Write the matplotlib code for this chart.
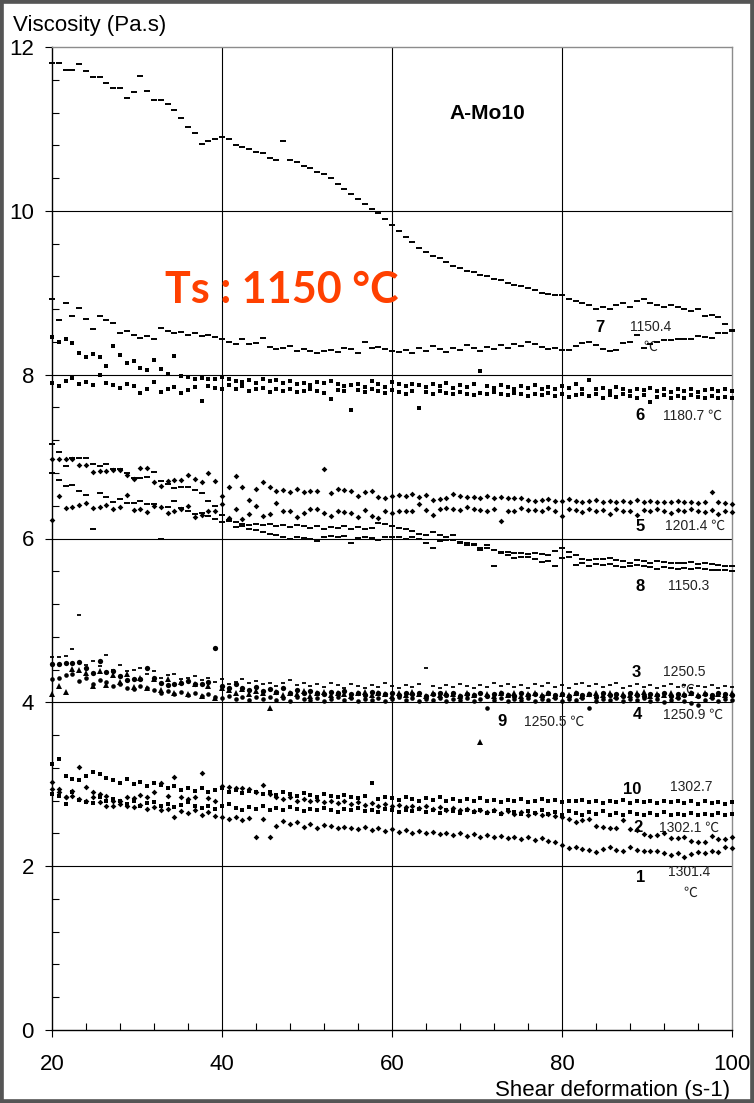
import numpy as np
import matplotlib
matplotlib.use("Agg")
import matplotlib.pyplot as plt
from matplotlib.ticker import FixedLocator
from matplotlib.patches import Rectangle

# ---------------------------------------------------------------------------
# Viscosity (Pa.s) of A-Mo10 versus shear deformation (s-1), 20 -> 100 s-1
# ---------------------------------------------------------------------------

# run 7, 1150.4 C (upper branch)
run7_upper = [11.80, 11.80, 11.72, 11.72, 11.79, 11.71, 11.63, 11.63, 11.56, 11.50,
              11.50, 11.38, 11.45, 11.65, 11.46, 11.35, 11.35, 11.30, 11.23, 11.13,
              11.02, 10.95, 10.82, 10.85, 10.88, 10.90, 10.88, 10.80, 10.78, 10.75,
              10.72, 10.70, 10.65, 10.62, 10.85, 10.62, 10.60, 10.55, 10.52, 10.48,
              10.45, 10.40, 10.33, 10.27, 10.20, 10.14, 10.08, 10.02, 9.97, 9.90,
              9.83, 9.75, 9.68, 9.62, 9.55, 9.50, 9.45, 9.42, 9.38, 9.33,
              9.30, 9.27, 9.25, 9.22, 9.20, 9.17, 9.15, 9.12, 9.10, 9.08,
              9.06, 9.03, 9.00, 8.98, 8.97, 8.97, 8.92, 8.90, 8.88, 8.85,
              8.80, 8.82, 8.80, 8.85, 8.88, 8.82, 8.90, 8.92, 8.88, 8.85,
              8.83, 8.85, 8.82, 8.80, 8.78, 8.80, 8.72, 8.73, 8.70, 8.62,
              8.55]

# run 7, 1150.4 C (lower branch)
run7_lower = [8.92, 8.67, 8.87, 8.72, 8.81, 8.68, 8.56, 8.72, 8.67, 8.63,
              8.51, 8.53, 8.49, 8.45, 8.47, 8.43, 8.57, 8.53, 8.51, 8.52,
              8.48, 8.51, 8.47, 8.49, 8.46, 8.43, 8.40, 8.37, 8.43, 8.37,
              8.39, 8.45, 8.34, 8.31, 8.33, 8.35, 8.29, 8.31, 8.29, 8.27,
              8.29, 8.30, 8.28, 8.33, 8.31, 8.26, 8.40, 8.33, 8.34, 8.31,
              8.29, 8.28, 8.30, 8.26, 8.32, 8.29, 8.35, 8.31, 8.28, 8.33,
              8.30, 8.36, 8.32, 8.29, 8.34, 8.31, 8.36, 8.33, 8.38, 8.35,
              8.40, 8.37, 8.34, 8.31, 8.33, 8.30, 8.30, 8.35, 8.39, 8.40,
              8.36, 8.31, 8.29, 8.30, 8.39, 8.40, 8.48, 8.33, 8.38, 8.40,
              8.42, 8.42, 8.44, 8.43, 8.44, 8.47, 8.46, 8.45, 8.51, 8.51,
              8.53]

# run 6, 1180.7 C
run6_a = [8.46, 8.40, 8.43, 8.39, 8.26, 8.22, 8.25, 8.22, 8.11, 8.35,
          8.24, 8.14, 8.17, 8.08, 8.06, 8.18, 8.07, 8.01, 8.23, 7.98,
          7.97, 7.95, 7.96, 7.95, 7.95, 7.97, 7.95, 7.92, 7.91, 7.93,
          7.90, 7.95, 7.92, 7.94, 7.90, 7.92, 7.88, 7.90, 7.87, 7.91,
          7.90, 7.92, 7.88, 7.86, 7.87, 7.89, 7.85, 7.92, 7.88, 7.85,
          7.91, 7.88, 7.86, 7.89, 7.87, 7.85, 7.88, 7.86, 7.90, 7.84,
          7.87, 7.85, 7.88, 8.05, 7.86, 7.84, 7.87, 7.85, 7.83, 7.86,
          7.84, 7.87, 7.82, 7.85, 7.83, 7.86, 7.84, 7.88, 7.83, 7.93,
          7.82, 7.84, 7.80, 7.85, 7.82, 7.80, 7.83, 7.81, 7.84, 7.80,
          7.82, 7.79, 7.83, 7.80, 7.82, 7.79, 7.81, 7.83, 7.80, 7.82,
          7.80]
run6_b = [7.90, 7.86, 7.92, 7.96, 7.88, 7.91, 7.87, 8.00, 7.90, 7.87,
          7.84, 7.89, 7.86, 7.78, 7.82, 7.91, 7.79, 7.82, 7.85, 7.78,
          7.81, 7.85, 7.68, 7.86, 7.84, 7.83, 7.87, 7.82, 7.86, 7.80,
          7.82, 7.84, 7.79, 7.83, 7.80, 7.83, 7.79, 7.80, 7.82, 7.80,
          7.78, 7.70, 7.81, 7.80, 7.57, 7.81, 7.79, 7.82, 7.80, 7.78,
          7.81, 7.79, 7.77, 7.80, 7.59, 7.79, 7.77, 7.80, 7.78, 7.76,
          7.79, 7.77, 7.75, 7.78, 7.76, 7.79, 7.77, 7.75, 7.78, 7.76,
          7.74, 7.77, 7.75, 7.78, 7.74, 7.76, 7.73, 7.75, 7.77, 7.74,
          7.76, 7.72, 7.75, 7.73, 7.76, 7.74, 7.72, 7.75, 7.67, 7.73,
          7.75, 7.72, 7.74, 7.72, 7.75, 7.73, 7.71, 7.74, 7.72, 7.73,
          7.72]

# run 5, 1201.4 C
run5_a = [6.97, 6.97, 6.97, 6.97, 6.90, 6.90, 6.81, 6.82, 6.83, 6.84,
          6.84, 6.78, 6.73, 6.86, 6.86, 6.69, 6.64, 6.70, 6.71, 6.72,
          6.78, 6.73, 6.69, 6.80, 6.70, 6.52, 6.63, 6.76, 6.63, 6.47,
          6.60, 6.69, 6.63, 6.58, 6.59, 6.57, 6.60, 6.57, 6.58, 6.58,
          6.85, 6.55, 6.60, 6.59, 6.58, 6.52, 6.57, 6.58, 6.51, 6.50,
          6.52, 6.53, 6.52, 6.54, 6.51, 6.53, 6.47, 6.48, 6.49, 6.54,
          6.52, 6.51, 6.51, 6.50, 6.52, 6.50, 6.51, 6.50, 6.49, 6.50,
          6.47, 6.46, 6.47, 6.48, 6.46, 6.46, 6.48, 6.46, 6.45, 6.46,
          6.47, 6.45, 6.46, 6.44, 6.46, 6.45, 6.47, 6.44, 6.46, 6.45,
          6.44, 6.45, 6.46, 6.44, 6.45, 6.43, 6.45, 6.57, 6.44, 6.43,
          6.42]
run5_b = [6.23, 6.52, 6.37, 6.39, 6.41, 6.43, 6.37, 6.39, 6.41, 6.36,
          6.38, 6.53, 6.35, 6.36, 6.32, 6.40, 6.39, 6.31, 6.33, 6.36,
          6.40, 6.26, 6.29, 6.34, 6.33, 6.42, 6.25, 6.36, 6.24, 6.30,
          6.40, 6.28, 6.30, 6.43, 6.33, 6.34, 6.26, 6.31, 6.36, 6.36,
          6.31, 6.27, 6.33, 6.32, 6.31, 6.26, 6.35, 6.28, 6.25, 6.33,
          6.31, 6.33, 6.34, 6.33, 6.42, 6.35, 6.29, 6.36, 6.37, 6.36,
          6.35, 6.38, 6.36, 6.35, 6.33, 6.36, 6.21, 6.33, 6.34, 6.37,
          6.35, 6.35, 6.34, 6.37, 6.33, 6.28, 6.36, 6.35, 6.32, 6.36,
          6.34, 6.35, 6.30, 6.36, 6.34, 6.33, 6.29, 6.35, 6.33, 6.36,
          6.34, 6.31, 6.35, 6.33, 6.36, 6.34, 6.32, 6.35, 6.30, 6.33,
          6.32]

# run 8, 1150.3 C
run8_a = [7.15, 7.06, 6.88, 6.98, 6.98, 6.98, 6.91, 6.88, 6.91, 6.85,
          6.85, 6.80, 6.74, 6.74, 6.75, 6.81, 6.70, 6.66, 6.62, 6.63,
          6.63, 6.59, 6.55, 6.46, 6.40, 6.29, 6.21, 6.20, 6.18, 6.17,
          6.18, 6.16, 6.18, 6.15, 6.17, 6.14, 6.16, 6.15, 6.13, 6.15,
          6.12, 6.14, 6.13, 6.15, 6.12, 6.14, 6.11, 6.13, 6.19, 6.18,
          6.15, 6.13, 6.11, 6.09, 6.05, 6.04, 6.08, 6.04, 6.02, 5.98,
          5.95, 5.94, 5.92, 5.88, 5.88, 5.86, 5.83, 5.84, 5.82, 5.82,
          5.81, 5.82, 5.81, 5.80, 5.85, 5.88, 5.83, 5.80, 5.75, 5.74,
          5.75, 5.75, 5.76, 5.74, 5.72, 5.70, 5.74, 5.72, 5.70, 5.72,
          5.71, 5.70, 5.70, 5.70, 5.71, 5.69, 5.70, 5.69, 5.68, 5.67,
          5.66]
run8_b = [6.80, 6.71, 6.64, 6.65, 6.58, 6.53, 6.12, 6.55, 6.51, 6.45,
          6.48, 6.43, 6.43, 6.46, 6.42, 6.42, 6.00, 6.38, 6.46, 6.37,
          6.33, 6.30, 6.31, 6.27, 6.24, 6.20, 6.22, 6.14, 6.15, 6.12,
          6.10, 6.08, 6.06, 6.04, 6.02, 6.00, 6.02, 6.01, 6.00, 5.97,
          6.02, 6.03, 6.02, 6.03, 5.94, 6.01, 6.02, 6.01, 5.98, 6.02,
          6.02, 6.02, 6.00, 6.02, 5.99, 5.94, 5.89, 5.97, 5.98, 6.04,
          5.96, 5.92, 5.93, 5.86, 5.92, 5.66, 5.82, 5.80, 5.76, 5.77,
          5.78, 5.75, 5.71, 5.72, 5.66, 5.76, 5.77, 5.68, 5.70, 5.67,
          5.69, 5.68, 5.69, 5.67, 5.65, 5.66, 5.68, 5.66, 5.65, 5.63,
          5.65, 5.64, 5.63, 5.64, 5.63, 5.64, 5.63, 5.62, 5.62, 5.61,
          5.60]

# run 3, 1250.5 C
run3 = [4.55, 4.55, 4.57, 4.65, 5.07, 4.45, 4.50, 4.44, 4.58, 4.40,
        4.45, 4.38, 4.40, 4.42, 4.35, 4.38, 4.30, 4.33, 4.35, 4.28,
        4.30, 4.32, 4.27, 4.30, 4.25, 4.28, 4.22, 4.25, 4.29, 4.23,
        4.26, 4.22, 4.24, 4.20, 4.23, 4.27, 4.21, 4.24, 4.20, 4.22,
        4.19, 4.23, 4.21, 4.18, 4.22, 4.20, 4.18, 4.21, 4.19, 4.23,
        4.20, 4.18, 4.21, 4.19, 4.22, 4.42, 4.20, 4.18, 4.21, 4.19,
        4.22, 4.20, 4.18, 4.21, 4.19, 4.24, 4.20, 4.22, 4.19, 4.21,
        4.18, 4.22, 4.20, 4.23, 4.19, 4.21, 4.18, 4.22, 4.24, 4.20,
        4.22, 4.19, 4.21, 4.23, 4.18, 4.20, 4.22, 4.19, 4.21, 4.18,
        4.20, 4.22, 4.19, 4.21, 4.18, 4.20, 4.19, 4.21, 4.18, 4.20,
        4.19]

# run 4, 1250.9 C
run4_a = [4.47, 4.47, 4.48, 4.48, 4.49, 4.42, 4.36, 4.50, 4.37, 4.38,
          4.32, 4.27, 4.28, 4.28, 4.42, 4.30, 4.24, 4.21, 4.22, 4.24,
          4.26, 4.22, 4.22, 4.25, 4.66, 4.20, 4.18, 4.22, 4.17, 4.15,
          4.19, 4.14, 4.16, 4.13, 4.17, 4.12, 4.15, 4.11, 4.14, 4.12,
          4.10, 4.13, 4.11, 4.14, 4.10, 4.12, 4.09, 4.13, 4.11, 4.10,
          4.12, 4.09, 4.11, 4.10, 4.12, 4.08, 4.10, 4.11, 4.09, 4.12,
          4.08, 4.10, 4.09, 4.11, 4.08, 4.10, 4.12, 4.09, 4.08, 4.11,
          4.09, 4.10, 4.08, 4.11, 4.09, 4.10, 4.08, 4.12, 4.09, 4.10,
          4.07, 4.11, 4.09, 4.10, 4.08, 4.11, 4.09, 4.08, 4.10, 4.09,
          4.11, 4.08, 4.10, 4.09, 4.11, 4.08, 4.10, 4.09, 4.11, 4.10,
          4.09]
run4_b = [4.28, 4.30, 4.33, 4.35, 4.26, 4.30, 4.22, 4.27, 4.25, 4.20,
          4.22, 4.18, 4.16, 4.20, 4.17, 4.15, 4.12, 4.14, 4.10, 4.13,
          4.09, 4.12, 4.08, 4.10, 4.06, 4.05, 4.08, 4.04, 4.07, 4.03,
          4.06, 4.04, 4.07, 4.03, 4.05, 4.02, 4.06, 4.04, 4.03, 4.05,
          4.02, 4.04, 4.06, 4.03, 4.05, 4.02, 4.04, 4.03, 4.05, 4.02,
          4.04, 4.06, 4.03, 4.05, 4.02, 4.04, 4.03, 4.05, 4.02, 4.04,
          4.03, 4.05, 4.02, 4.04, 3.93, 4.03, 4.05, 4.02, 4.04, 4.03,
          4.05, 4.02, 4.04, 4.03, 4.05, 4.02, 4.04, 4.03, 4.05, 3.93,
          4.02, 4.04, 4.03, 4.05, 4.02, 4.04, 4.03, 4.05, 4.02, 4.04,
          4.01, 4.03, 4.05, 4.02, 3.99, 3.97, 4.03, 4.05, 4.02, 4.04,
          4.03]

# run 9, 1250.5 C
run9 = [4.10, 4.20, 4.13, 4.41, 4.40, 4.36, 4.20, 4.38, 4.21, 4.33,
        4.25, 4.35, 4.19, 4.30, 4.17, 4.28, 4.15, 4.29, 4.12, 4.25,
        4.10, 4.22, 4.08, 4.20, 4.05, 4.18, 4.15, 4.12, 4.16, 4.10,
        4.14, 4.11, 3.93, 4.13, 4.09, 4.12, 4.10, 4.14, 4.08, 4.11,
        4.13, 4.09, 4.12, 4.10, 4.08, 4.11, 4.13, 4.09, 4.12, 4.10,
        4.08, 4.11, 4.09, 4.13, 4.10, 4.08, 4.11, 4.09, 4.12, 4.10,
        4.08, 4.11, 4.09, 3.52, 4.10, 4.08, 4.12, 4.09, 4.11, 4.08,
        4.10, 4.12, 4.09, 4.11, 4.08, 4.10, 4.09, 4.11, 4.08, 4.10,
        4.12, 4.09, 4.11, 4.08, 4.10, 4.09, 4.11, 4.13, 4.08, 4.10,
        4.09, 4.11, 4.08, 4.10, 4.12, 4.09, 4.11, 4.08, 4.10, 4.09,
        4.11]

# run 10, 1302.7 C
run10_a = [3.25, 3.31, 3.10, 3.07, 3.05, 3.10, 3.15, 3.12, 3.08, 3.05,
           3.02, 3.06, 3.00, 3.03, 2.98, 3.01, 2.99, 2.95, 2.98, 2.93,
           2.96, 2.92, 2.95, 2.90, 2.93, 2.96, 2.91, 2.93, 2.89, 2.92,
           2.90, 2.88, 2.91, 2.87, 2.90, 2.88, 2.86, 2.89, 2.87, 2.85,
           2.88, 2.86, 2.84, 2.87, 2.85, 2.83, 2.86, 3.01, 2.82, 2.85,
           2.83, 2.81, 2.84, 2.82, 2.80, 2.83, 2.81, 2.84, 2.80, 2.82,
           2.79, 2.82, 2.80, 2.83, 2.79, 2.81, 2.78, 2.81, 2.79, 2.82,
           2.78, 2.80, 2.82, 2.79, 2.81, 2.78, 2.80, 2.79, 2.81, 2.78,
           2.80, 2.77, 2.80, 2.78, 2.81, 2.77, 2.79, 2.78, 2.80, 2.77,
           2.79, 2.78, 2.80, 2.77, 2.79, 2.76, 2.79, 2.77, 2.78, 2.76,
           2.78]
run10_b = [2.88, 2.86, 2.76, 2.91, 2.81, 2.78, 2.77, 2.84, 2.80, 2.82,
           2.79, 2.76, 2.80, 2.74, 2.77, 2.78, 2.73, 2.76, 2.72, 2.75,
           2.78, 2.73, 2.71, 2.74, 2.70, 2.73, 2.76, 2.71, 2.69, 2.72,
           2.70, 2.73, 2.68, 2.71, 2.69, 2.72, 2.70, 2.67, 2.70, 2.68,
           2.71, 2.69, 2.66, 2.70, 2.68, 2.71, 2.67, 2.69, 2.66, 2.70,
           2.68, 2.66, 2.69, 2.67, 2.70, 2.66, 2.68, 2.65, 2.69, 2.67,
           2.65, 2.68, 2.66, 2.69, 2.65, 2.67, 2.64, 2.68, 2.66, 2.64,
           2.67, 2.65, 2.68, 2.64, 2.66, 2.63, 2.67, 2.65, 2.63, 2.66,
           2.64, 2.67, 2.63, 2.65, 2.62, 2.66, 2.64, 2.62, 2.65, 2.63,
           2.66, 2.62, 2.64, 2.63, 2.65, 2.62, 2.64, 2.63, 2.65, 2.63,
           2.64]

# run 2, 1302.1 C
run2 = [3.03, 2.94, 2.84, 2.92, 3.21, 2.97, 2.90, 2.88, 2.86, 2.73,
        2.80, 2.85, 2.83, 2.87, 2.84, 2.90, 3.01, 2.86, 3.09, 2.84,
        2.82, 2.85, 3.14, 2.83, 2.80, 2.98, 2.97, 2.96, 2.95, 2.94,
        2.90, 2.99, 2.88, 2.85, 2.82, 2.84, 2.80, 2.82, 2.79, 2.81,
        2.78, 2.80, 2.77, 2.79, 2.76, 2.78, 2.75, 2.77, 2.74, 2.76,
        2.73, 2.75, 2.72, 2.74, 2.71, 2.73, 2.70, 2.72, 2.69, 2.71,
        2.68, 2.70, 2.67, 2.69, 2.66, 2.68, 2.65, 2.67, 2.64, 2.66,
        2.63, 2.65, 2.62, 2.64, 2.61, 2.60, 2.57, 2.54, 2.56, 2.58,
        2.49, 2.48, 2.47, 2.47, 2.56, 2.45, 2.44, 2.39, 2.37, 2.38,
        2.40, 2.34, 2.34, 2.35, 2.31, 2.29, 2.30, 2.37, 2.33, 2.33,
        2.35]

# run 1, 1301.4 C
run1 = [2.94, 2.90, 2.84, 2.86, 2.82, 2.80, 2.84, 2.78, 2.73, 2.80,
        2.76, 2.74, 2.72, 2.75, 2.70, 2.72, 2.68, 2.70, 2.60, 2.67,
        2.65, 2.69, 2.62, 2.66, 2.61, 2.60, 2.58, 2.60, 2.56, 2.59,
        2.36, 2.58, 2.36, 2.49, 2.55, 2.52, 2.54, 2.48, 2.51, 2.47,
        2.50, 2.49, 2.46, 2.48, 2.47, 2.45, 2.48, 2.44, 2.46, 2.43,
        2.45, 2.42, 2.44, 2.41, 2.43, 2.40, 2.42, 2.39, 2.41, 2.38,
        2.40, 2.37, 2.39, 2.36, 2.38, 2.35, 2.37, 2.34, 2.36, 2.33,
        2.35, 2.32, 2.34, 2.31, 2.30, 2.26, 2.22, 2.24, 2.21, 2.20,
        2.17, 2.21, 2.24, 2.20, 2.19, 2.23, 2.20, 2.18, 2.19, 2.18,
        2.16, 2.14, 2.16, 2.11, 2.15, 2.17, 2.16, 2.18, 2.17, 2.23,
        2.22]

# marker style per run: (values, marker, size, edge width)
runs = [
    (run7_upper, "_", 3.8, 1.4),
    (run7_lower, "_", 3.8, 1.4),
    (run8_a, "_", 3.8, 1.4),
    (run8_b, "_", 3.8, 1.4),
    (run6_a, "s", 3.4, 0.0),
    (run6_b, "s", 3.4, 0.0),
    (run5_a, "D", 2.9, 0.0),
    (run5_b, "D", 2.9, 0.0),
    (run3, "_", 3.4, 1.3),
    (run4_a, "o", 3.8, 0.0),
    (run4_b, "o", 3.3, 0.0),
    (run9, "^", 3.8, 0.0),
    (run10_a, "s", 3.4, 0.0),
    (run10_b, "s", 3.4, 0.0),
    (run2, "D", 2.9, 0.0),
    (run1, "D", 2.9, 0.0),
]

# run annotations: (number, number position, temperature text, text position)
run_labels = [
    ("7", (84.5, 8.57), "1150.4", (88.0, 8.58)),
    ("6", (89.2, 7.50), "1180.7 ℃", (91.9, 7.50)),
    ("5", (89.2, 6.15), "1201.4 ℃", (92.1, 6.15)),
    ("8", (89.2, 5.42), "1150.3", (92.5, 5.42)),
    ("3", (88.7, 4.36), "1250.5", (91.9, 4.37)),
    ("9", (72.9, 3.76), "1250.5 ℃", (75.5, 3.76)),
    ("4", (88.9, 3.85), "1250.9 ℃", (91.9, 3.85)),
    ("10", (88.3, 2.94), "1302.7", (92.7, 2.97)),
    ("2", (88.9, 2.47), "1302.1 ℃", (91.4, 2.47)),
    ("1", (89.2, 1.86), "1301.4", (92.5, 1.93)),
]
# stray unit signs set below the temperature values
unit_marks = [(90.35, 8.34), (94.8, 4.15), (95.1, 1.68)]

x_ticks = [20, 40, 60, 80, 100]
y_ticks = [0, 2, 4, 6, 8, 10, 12]

plt.rcParams["font.family"] = ["Liberation Sans", "DejaVu Sans", "Noto Sans CJK SC"]

fig = plt.figure(figsize=(7.54, 11.03), dpi=100)
ax = fig.add_axes([52 / 754, 1 - 1030 / 1103, 680 / 754, 983 / 1103])
ax.set_xlim(20, 100)
ax.set_ylim(0, 12)

# inner grid lines
for xv in x_ticks[1:-1]:
    ax.axvline(xv, color="black", lw=0.8, zorder=1)
for yv in y_ticks[1:-1]:
    ax.axhline(yv, color="black", lw=0.8, zorder=1)

for values, marker, size, ew in runs:
    xs = np.linspace(20, 100, len(values))
    kw = dict(linestyle="none", marker=marker, markersize=size, color="black",
              zorder=3, clip_on=False)
    kw["markeredgewidth"] = ew if marker == "_" else 0.0
    ax.plot(xs, values, **kw)

for num, npos, temp, tpos in run_labels:
    ax.text(npos[0], npos[1], num, fontsize=12, fontweight="bold",
            ha="center", va="center", zorder=2)
    ax.text(tpos[0], tpos[1], temp, fontsize=10, ha="left", va="center",
            zorder=2, color="#222222",
            family=["Liberation Sans", "Noto Sans CJK SC"])
for ux, uy in unit_marks:
    ax.text(ux, uy, "℃", fontsize=10, ha="center", va="center", zorder=2,
            color="#222222", family=["Noto Sans CJK SC", "DejaVu Sans"])

ax.text(71.2, 11.19, "A-Mo10", fontsize=15, fontweight="bold",
        ha="center", va="center", zorder=4)
ax.text(47.0, 9.03, "Ts : 1150 °C", fontsize=31, fontweight="bold",
        family=["Lato", "DejaVu Sans"], color="#FF4000",
        ha="center", va="center", zorder=4)

# axes frame
for side in ("left", "bottom"):
    ax.spines[side].set_color("black")
    ax.spines[side].set_linewidth(1.0)
for side in ("top", "right"):
    ax.spines[side].set_color("#8c8c8c")
    ax.spines[side].set_linewidth(1.0)

ax.xaxis.set_major_locator(FixedLocator(x_ticks))
ax.yaxis.set_major_locator(FixedLocator(y_ticks))
ax.xaxis.set_minor_locator(FixedLocator([v for v in range(20, 101, 4)]))
ax.yaxis.set_minor_locator(FixedLocator([round(0.4 * k, 1) for k in range(31)]))
ax.tick_params(axis="both", which="major", direction="out", length=5, width=0.8,
               labelsize=16, colors="black")
ax.tick_params(axis="y", which="major", pad=8)
ax.tick_params(axis="x", which="major", pad=12)
ax.tick_params(axis="both", which="minor", direction="in", length=5, width=0.8)
ax.tick_params(top=False, right=False, which="both")

fig.text(13 / 754, 1 - 31 / 1103, "Viscosity (Pa.s)", fontsize=16,
         ha="left", va="baseline")
fig.text(730 / 754, 1 - 1096 / 1103, "Shear deformation (s-1)", fontsize=16,
         ha="right", va="baseline")

fig.patches.append(Rectangle((0, 0), 1, 1, transform=fig.transFigure,
                             fill=False, edgecolor="#555555", lw=5.5, zorder=10))

fig.savefig("out.png", dpi=100)
